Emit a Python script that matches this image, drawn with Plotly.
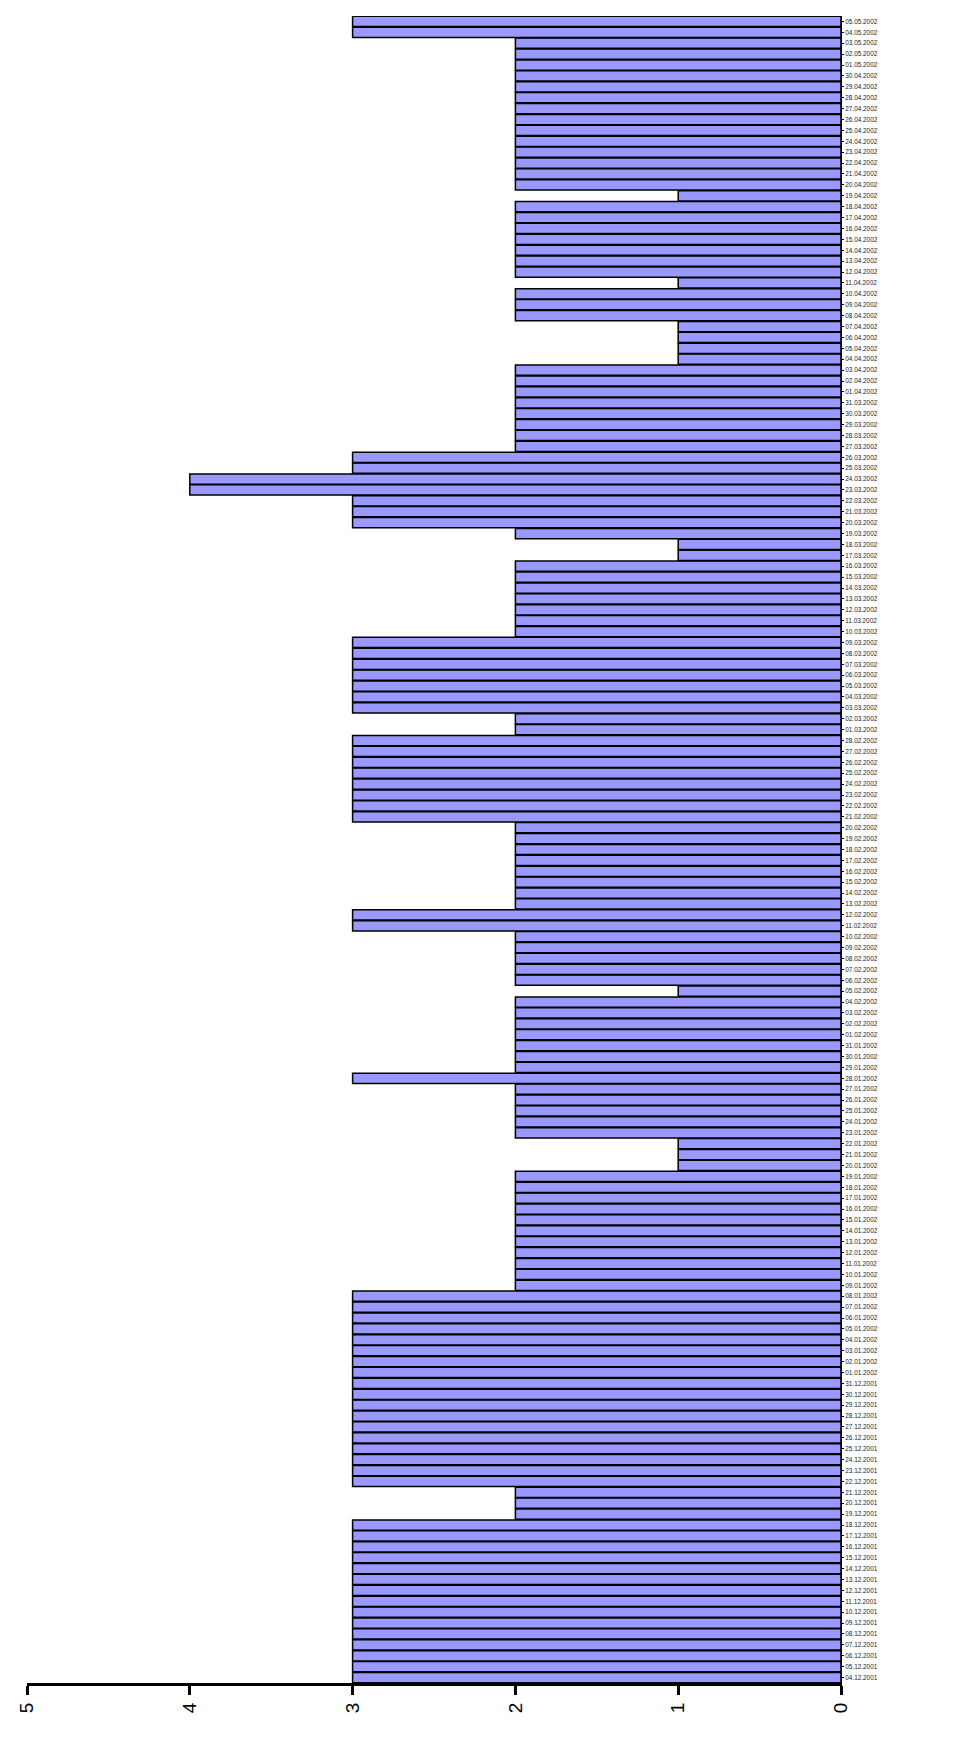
import pandas as pd
import plotly.graph_objects as go

# Categories: daily dates from 04.12.2001 to 05.05.2002 (bottom to top)
dates = [d.strftime("%d.%m.%Y") for d in pd.date_range("2001-12-04", "2002-05-05", freq="D")]

# Values, in date order
dec_2001 = [3, 3, 3, 3, 3, 3, 3, 3, 3, 3, 3, 3, 3, 3, 3,   # 04-18
            2, 2, 2,                                       # 19-21
            3, 3, 3, 3, 3, 3, 3, 3, 3, 3]                  # 22-31
jan_2002 = [3, 3, 3, 3, 3, 3, 3, 3,                        # 01-08
            2, 2, 2, 2, 2, 2, 2, 2, 2, 2, 2,               # 09-19
            1, 1, 1,                                       # 20-22
            2, 2, 2, 2, 2,                                 # 23-27
            3,                                             # 28
            2, 2, 2]                                       # 29-31
feb_2002 = [2, 2, 2, 2,                                    # 01-04
            1,                                             # 05
            2, 2, 2, 2, 2,                                 # 06-10
            3, 3,                                          # 11-12
            2, 2, 2, 2, 2, 2, 2, 2,                        # 13-20
            3, 3, 3, 3, 3, 3, 3, 3]                        # 21-28
mar_2002 = [2, 2,                                          # 01-02
            3, 3, 3, 3, 3, 3, 3,                           # 03-09
            2, 2, 2, 2, 2, 2, 2,                           # 10-16
            1, 1,                                          # 17-18
            2,                                             # 19
            3, 3, 3,                                       # 20-22
            4, 4,                                          # 23-24
            3, 3,                                          # 25-26
            2, 2, 2, 2, 2]                                 # 27-31
apr_2002 = [2, 2, 2,                                       # 01-03
            1, 1, 1, 1,                                    # 04-07
            2, 2, 2,                                       # 08-10
            1,                                             # 11
            2, 2, 2, 2, 2, 2, 2,                           # 12-18
            1,                                             # 19
            2, 2, 2, 2, 2, 2, 2, 2, 2, 2, 2]               # 20-30
may_2002 = [2, 2, 2,                                       # 01-03
            3, 3]                                          # 04-05

values = dec_2001 + jan_2002 + feb_2002 + mar_2002 + apr_2002 + may_2002
x_ticks = [0, 1, 2, 3, 4, 5]

fig = go.Figure(
    go.Bar(
        x=values,
        y=dates,
        orientation="h",
        marker=dict(color="#9999FF", line=dict(color="#000000", width=1.5)),
        hoverinfo="x+y",
    )
)

fig.update_layout(
    width=964,
    height=1742,
    margin=dict(l=14, r=131, t=8, b=67),
    plot_bgcolor="white",
    paper_bgcolor="white",
    bargap=0.06,
    showlegend=False,
    font=dict(family="Arial, Liberation Sans, sans-serif", color="black"),
)

fig.update_xaxes(
    range=[5, 0],
    tickmode="array",
    tickvals=x_ticks,
    ticktext=[str(v) for v in x_ticks],
    tickangle=-90,
    tickfont=dict(size=19, family="Arial, Liberation Sans, sans-serif", color="black"),
    ticks="outside",
    ticklen=9,
    tickwidth=3,
    tickcolor="black",
    showline=True,
    linewidth=3,
    linecolor="black",
    showgrid=False,
    zeroline=False,
)

fig.update_yaxes(
    type="category",
    categoryorder="array",
    categoryarray=dates,
    tickmode="array",
    tickvals=dates,
    ticktext=dates,
    side="right",
    tickfont=dict(size=6.4, family="Arial, Liberation Sans, sans-serif", color="#222222"),
    ticks="outside",
    ticklen=2,
    tickwidth=0.8,
    tickcolor="black",
    showline=True,
    linewidth=1,
    linecolor="black",
    showgrid=False,
    zeroline=False,
    range=[-0.5, len(dates) - 0.5],
)

fig.write_html("out.html")
